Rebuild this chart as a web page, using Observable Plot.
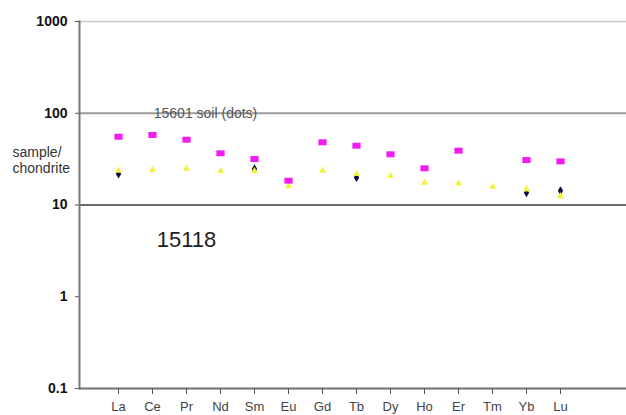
<!DOCTYPE html>
<html>
<head>
<meta charset="utf-8">
<script src="https://cdn.jsdelivr.net/npm/d3@7"></script>
<script src="https://cdn.jsdelivr.net/npm/@observablehq/plot@0.6"></script>
<style>
  html, body { margin: 0; padding: 0; background: #fff; }
  #chart { width: 626px; height: 415px; overflow: hidden; }
</style>
</head>
<body>
<div id="chart"></div>
<script>
const elements = ["La","Ce","Pr","Nd","Sm","Eu","Gd","Tb","Dy","Ho","Er","Tm","Yb","Lu"];
const soil15601 = [55.5, 58, 51.5, 36.6, 31.7, 18.4, 48.2, 44.3, 35.7, 25.1, 39.1, null, 30.9, 29.9];
const rock15118 = [23.7, 24.1, 24.9, 23.5, 23.5, 16.1, 23.7, 21.8, 20.7, 17.5, 17.2, 15.8, 14.8, 12.5];
const otherElements = ["La","Sm","Tb","Yb","Lu"];
const otherValues = [21.8, 24.7, 20.0, 13.6, 14.3];
const yTicks = [0.1, 1, 10, 100, 1000];

const soilData = elements.map((e, i) => ({el: e, v: soil15601[i]})).filter(d => d.v != null);
const rockData = elements.map((e, i) => ({el: e, v: rock15118[i]}));
const otherData = otherElements.map((e, i) => ({el: e, v: otherValues[i]}));

const wideRect = {
  draw(ctx, size) {
    const s = Math.sqrt(size);
    const w = s * 0.58, h = s * 0.42;
    ctx.moveTo(-w, -h); ctx.lineTo(w, -h); ctx.lineTo(w, h); ctx.lineTo(-w, h); ctx.closePath();
  }
};

const chart = Plot.plot({
  width: 626,
  height: 415,
  marginTop: 21,
  marginBottom: 27,
  marginLeft: 79,
  marginRight: 0,
  style: {fontFamily: "'Liberation Sans', Arial, sans-serif", background: "#fff", color: "#222"},
  x: {type: "point", domain: elements, range: [118, 560], padding: 0, label: null},
  y: {type: "log", domain: [0.1, 1000], label: null},
  marks: [
    Plot.ruleY([1000], {stroke: "#c8c8c8", strokeWidth: 1.5}),
    Plot.ruleY([100], {stroke: "#9a9a9a", strokeWidth: 2}),
    Plot.ruleY([10], {stroke: "#6a6a6a", strokeWidth: 2}),
    Plot.ruleY([0.1], {stroke: "#707070", strokeWidth: 2}),
    Plot.frame({anchor: "left", stroke: "#777", strokeWidth: 2}),
    Plot.axisY({ticks: yTicks, tickFormat: d => String(d), tickSize: 4, tickPadding: 8,
      fontSize: 14, fontWeight: "bold", fill: "#111", stroke: "#555", label: null}),
    Plot.axisX({tickSize: 6, tickPadding: 7, fontSize: 13, fill: "#444", stroke: "#555", label: null}),
    Plot.text(["sample/\nchondrite"], {y: [31], frameAnchor: "left", dx: -67, textAnchor: "start",
      fontSize: 14, fill: "#333", lineHeight: 1.1}),
    Plot.text(["15601 soil (dots)"], {x: ["Pr"], y: [100], dx: 19, fontSize: 14, fill: "#555"}),
    Plot.text(["15118"], {x: ["Pr"], y: [4.15], fontSize: 22, fill: "#222"}),
    Plot.dot(otherData, {x: "el", y: "v", symbol: "diamond", r: 2.8, fill: "#0c0c45", stroke: "none"}),
    Plot.dot(rockData, {x: "el", y: "v", symbol: "triangle", r: 2.6, fill: "#f2f23a", stroke: "none"}),
    Plot.dot(soilData, {x: "el", y: "v", symbol: wideRect, r: 4, fill: "#f01cf0", stroke: "none"})
  ]
});

document.getElementById("chart").appendChild(chart);
</script>
</body>
</html>
